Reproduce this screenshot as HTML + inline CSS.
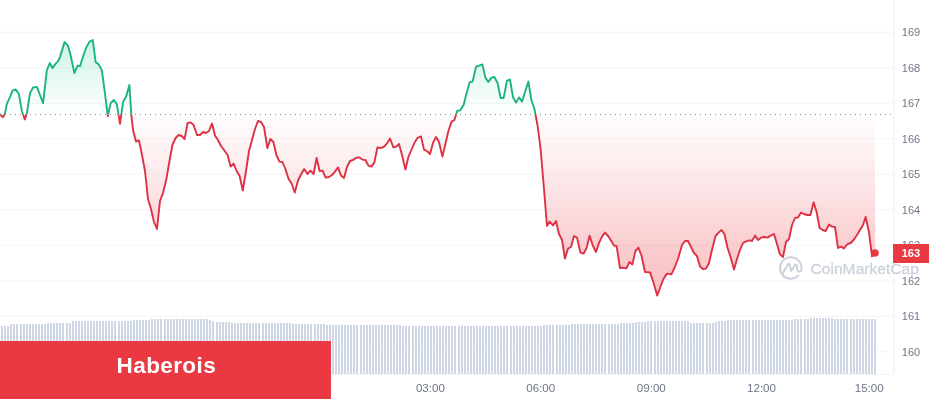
<!DOCTYPE html>
<html><head><meta charset="utf-8"><title>Chart</title>
<style>
html,body{margin:0;padding:0;background:#fff;}
body{width:929px;height:400px;overflow:hidden;position:relative;font-family:"Liberation Sans",sans-serif;}
svg{position:absolute;left:0;top:0;display:block}
.yl{font:11px "Liberation Sans",sans-serif;fill:#6f7687}
.xl{font:11.6px "Liberation Sans",sans-serif;fill:#6f7687}
.banner{position:absolute;left:0;top:341px;width:331px;height:58px;background:#ea3943;}
.banner span{position:absolute;left:116.6px;top:12px;font:bold 22.5px "Liberation Sans",sans-serif;color:#fff;letter-spacing:0.4px;white-space:nowrap}
</style></head><body>
<svg width="929" height="400" viewBox="0 0 929 400">
<defs>
<linearGradient id="gg" x1="0" y1="38" x2="0" y2="114.4" gradientUnits="userSpaceOnUse"><stop offset="0" stop-color="#16c784" stop-opacity="0.22"/><stop offset="1" stop-color="#16c784" stop-opacity="0"/></linearGradient>
<linearGradient id="rg" x1="0" y1="114.4" x2="0" y2="296" gradientUnits="userSpaceOnUse"><stop offset="0" stop-color="#ea3943" stop-opacity="0.01"/><stop offset="0.42" stop-color="#ea3943" stop-opacity="0.135"/><stop offset="0.75" stop-color="#ea3943" stop-opacity="0.26"/><stop offset="1" stop-color="#ea3943" stop-opacity="0.32"/></linearGradient>
<clipPath id="up"><rect x="-5" y="0" width="900" height="114.4"/></clipPath>
<clipPath id="dn"><rect x="-5" y="114.4" width="900" height="300"/></clipPath>
</defs>
<rect width="929" height="400" fill="#fff"/>
<rect x="0" y="31.8" width="894" height="1" fill="#f5f5f7"/><rect x="0" y="67.3" width="894" height="1" fill="#f5f5f7"/><rect x="0" y="102.8" width="894" height="1" fill="#f5f5f7"/><rect x="0" y="138.3" width="894" height="1" fill="#f5f5f7"/><rect x="0" y="173.8" width="894" height="1" fill="#f5f5f7"/><rect x="0" y="209.3" width="894" height="1" fill="#f5f5f7"/><rect x="0" y="244.8" width="894" height="1" fill="#f5f5f7"/><rect x="0" y="280.3" width="894" height="1" fill="#f5f5f7"/><rect x="0" y="315.8" width="894" height="1" fill="#f5f5f7"/><rect x="0" y="351.3" width="894" height="1" fill="#f5f5f7"/>
<rect x="893.5" y="0" width="1" height="374.5" fill="#f0f1f3"/><rect x="0" y="374" width="894" height="1" fill="#f3f4f6"/>
<g fill="#cfd6e4" shape-rendering="crispEdges"><rect x="874.00" y="319.0" width="2" height="55.0"/><rect x="871.00" y="319.0" width="2" height="55.0"/><rect x="868.00" y="319.0" width="2" height="55.0"/><rect x="865.00" y="319.0" width="2" height="55.0"/><rect x="862.00" y="319.0" width="2" height="55.0"/><rect x="859.00" y="319.0" width="2" height="55.0"/><rect x="856.00" y="319.0" width="2" height="55.0"/><rect x="853.00" y="319.0" width="2" height="55.0"/><rect x="850.00" y="319.0" width="2" height="55.0"/><rect x="846.00" y="319.0" width="2" height="55.0"/><rect x="843.00" y="319.0" width="2" height="55.0"/><rect x="840.00" y="319.0" width="2" height="55.0"/><rect x="837.00" y="319.0" width="2" height="55.0"/><rect x="834.00" y="318.5" width="2" height="55.5"/><rect x="831.00" y="318.0" width="2" height="56.0"/><rect x="828.00" y="318.0" width="2" height="56.0"/><rect x="825.00" y="318.0" width="2" height="56.0"/><rect x="822.00" y="318.0" width="2" height="56.0"/><rect x="819.00" y="318.0" width="2" height="56.0"/><rect x="816.00" y="318.0" width="2" height="56.0"/><rect x="813.00" y="318.0" width="2" height="56.0"/><rect x="810.00" y="318.4" width="2" height="55.6"/><rect x="807.00" y="318.8" width="2" height="55.2"/><rect x="804.00" y="318.8" width="2" height="55.2"/><rect x="800.00" y="318.8" width="2" height="55.2"/><rect x="797.00" y="318.8" width="2" height="55.2"/><rect x="794.00" y="318.8" width="2" height="55.2"/><rect x="791.00" y="320.0" width="2" height="54.0"/><rect x="788.00" y="320.0" width="2" height="54.0"/><rect x="785.00" y="320.0" width="2" height="54.0"/><rect x="782.00" y="320.0" width="2" height="54.0"/><rect x="779.00" y="320.0" width="2" height="54.0"/><rect x="776.00" y="320.0" width="2" height="54.0"/><rect x="773.00" y="320.0" width="2" height="54.0"/><rect x="770.00" y="320.0" width="2" height="54.0"/><rect x="767.00" y="320.0" width="2" height="54.0"/><rect x="764.00" y="320.0" width="2" height="54.0"/><rect x="761.00" y="320.0" width="2" height="54.0"/><rect x="758.00" y="320.0" width="2" height="54.0"/><rect x="755.00" y="320.0" width="2" height="54.0"/><rect x="752.00" y="320.0" width="2" height="54.0"/><rect x="748.00" y="320.0" width="2" height="54.0"/><rect x="745.00" y="320.0" width="2" height="54.0"/><rect x="742.00" y="320.0" width="2" height="54.0"/><rect x="739.00" y="320.0" width="2" height="54.0"/><rect x="736.00" y="320.0" width="2" height="54.0"/><rect x="733.00" y="320.0" width="2" height="54.0"/><rect x="730.00" y="320.0" width="2" height="54.0"/><rect x="727.00" y="320.0" width="2" height="54.0"/><rect x="724.00" y="321.0" width="2" height="53.0"/><rect x="721.00" y="321.0" width="2" height="53.0"/><rect x="718.00" y="321.0" width="2" height="53.0"/><rect x="715.00" y="322.0" width="2" height="52.0"/><rect x="712.00" y="322.5" width="2" height="51.5"/><rect x="709.00" y="322.5" width="2" height="51.5"/><rect x="706.00" y="322.5" width="2" height="51.5"/><rect x="702.00" y="322.5" width="2" height="51.5"/><rect x="699.00" y="322.5" width="2" height="51.5"/><rect x="696.00" y="322.5" width="2" height="51.5"/><rect x="693.00" y="322.5" width="2" height="51.5"/><rect x="690.00" y="322.5" width="2" height="51.5"/><rect x="687.00" y="321.2" width="2" height="52.8"/><rect x="684.00" y="321.2" width="2" height="52.8"/><rect x="681.00" y="321.2" width="2" height="52.8"/><rect x="678.00" y="321.2" width="2" height="52.8"/><rect x="675.00" y="321.2" width="2" height="52.8"/><rect x="672.00" y="321.2" width="2" height="52.8"/><rect x="669.00" y="321.2" width="2" height="52.8"/><rect x="666.00" y="321.2" width="2" height="52.8"/><rect x="663.00" y="321.2" width="2" height="52.8"/><rect x="660.00" y="321.2" width="2" height="52.8"/><rect x="657.00" y="321.2" width="2" height="52.8"/><rect x="654.00" y="321.2" width="2" height="52.8"/><rect x="650.00" y="321.2" width="2" height="52.8"/><rect x="647.00" y="321.2" width="2" height="52.8"/><rect x="644.00" y="321.6" width="2" height="52.4"/><rect x="641.00" y="322.0" width="2" height="52.0"/><rect x="638.00" y="322.0" width="2" height="52.0"/><rect x="635.00" y="322.0" width="2" height="52.0"/><rect x="632.00" y="323.0" width="2" height="51.0"/><rect x="629.00" y="323.0" width="2" height="51.0"/><rect x="626.00" y="323.0" width="2" height="51.0"/><rect x="623.00" y="323.0" width="2" height="51.0"/><rect x="620.00" y="323.0" width="2" height="51.0"/><rect x="617.00" y="324.2" width="2" height="49.8"/><rect x="614.00" y="324.2" width="2" height="49.8"/><rect x="611.00" y="324.2" width="2" height="49.8"/><rect x="608.00" y="324.2" width="2" height="49.8"/><rect x="604.00" y="324.2" width="2" height="49.8"/><rect x="601.00" y="324.2" width="2" height="49.8"/><rect x="598.00" y="324.2" width="2" height="49.8"/><rect x="595.00" y="324.2" width="2" height="49.8"/><rect x="592.00" y="324.2" width="2" height="49.8"/><rect x="589.00" y="324.2" width="2" height="49.8"/><rect x="586.00" y="324.2" width="2" height="49.8"/><rect x="583.00" y="324.2" width="2" height="49.8"/><rect x="580.00" y="324.2" width="2" height="49.8"/><rect x="577.00" y="324.2" width="2" height="49.8"/><rect x="574.00" y="324.2" width="2" height="49.8"/><rect x="571.00" y="324.2" width="2" height="49.8"/><rect x="568.00" y="325.0" width="2" height="49.0"/><rect x="565.00" y="325.0" width="2" height="49.0"/><rect x="562.00" y="325.0" width="2" height="49.0"/><rect x="559.00" y="325.0" width="2" height="49.0"/><rect x="556.00" y="325.0" width="2" height="49.0"/><rect x="552.00" y="325.0" width="2" height="49.0"/><rect x="549.00" y="325.0" width="2" height="49.0"/><rect x="546.00" y="325.0" width="2" height="49.0"/><rect x="543.00" y="325.3" width="2" height="48.7"/><rect x="540.00" y="326.2" width="2" height="47.8"/><rect x="537.00" y="326.2" width="2" height="47.8"/><rect x="534.00" y="326.2" width="2" height="47.8"/><rect x="531.00" y="326.2" width="2" height="47.8"/><rect x="528.00" y="326.2" width="2" height="47.8"/><rect x="525.00" y="326.2" width="2" height="47.8"/><rect x="522.00" y="326.2" width="2" height="47.8"/><rect x="519.00" y="326.2" width="2" height="47.8"/><rect x="516.00" y="326.2" width="2" height="47.8"/><rect x="513.00" y="326.2" width="2" height="47.8"/><rect x="510.00" y="326.2" width="2" height="47.8"/><rect x="506.00" y="326.2" width="2" height="47.8"/><rect x="503.00" y="326.2" width="2" height="47.8"/><rect x="500.00" y="326.2" width="2" height="47.8"/><rect x="497.00" y="326.2" width="2" height="47.8"/><rect x="494.00" y="326.2" width="2" height="47.8"/><rect x="491.00" y="326.2" width="2" height="47.8"/><rect x="488.00" y="326.2" width="2" height="47.8"/><rect x="485.00" y="326.2" width="2" height="47.8"/><rect x="482.00" y="326.2" width="2" height="47.8"/><rect x="479.00" y="326.2" width="2" height="47.8"/><rect x="476.00" y="326.2" width="2" height="47.8"/><rect x="473.00" y="326.2" width="2" height="47.8"/><rect x="470.00" y="326.2" width="2" height="47.8"/><rect x="467.00" y="326.2" width="2" height="47.8"/><rect x="464.00" y="326.2" width="2" height="47.8"/><rect x="461.00" y="326.2" width="2" height="47.8"/><rect x="458.00" y="326.2" width="2" height="47.8"/><rect x="454.00" y="326.2" width="2" height="47.8"/><rect x="451.00" y="326.2" width="2" height="47.8"/><rect x="448.00" y="326.2" width="2" height="47.8"/><rect x="445.00" y="326.2" width="2" height="47.8"/><rect x="442.00" y="326.2" width="2" height="47.8"/><rect x="439.00" y="326.2" width="2" height="47.8"/><rect x="436.00" y="326.2" width="2" height="47.8"/><rect x="433.00" y="326.2" width="2" height="47.8"/><rect x="430.00" y="326.2" width="2" height="47.8"/><rect x="427.00" y="326.2" width="2" height="47.8"/><rect x="424.00" y="326.2" width="2" height="47.8"/><rect x="421.00" y="326.2" width="2" height="47.8"/><rect x="418.00" y="326.2" width="2" height="47.8"/><rect x="415.00" y="326.2" width="2" height="47.8"/><rect x="412.00" y="326.2" width="2" height="47.8"/><rect x="408.00" y="326.2" width="2" height="47.8"/><rect x="405.00" y="326.2" width="2" height="47.8"/><rect x="402.00" y="326.2" width="2" height="47.8"/><rect x="399.00" y="325.0" width="2" height="49.0"/><rect x="396.00" y="325.0" width="2" height="49.0"/><rect x="393.00" y="325.0" width="2" height="49.0"/><rect x="390.00" y="325.0" width="2" height="49.0"/><rect x="387.00" y="325.0" width="2" height="49.0"/><rect x="384.00" y="325.0" width="2" height="49.0"/><rect x="381.00" y="325.0" width="2" height="49.0"/><rect x="378.00" y="325.0" width="2" height="49.0"/><rect x="375.00" y="325.0" width="2" height="49.0"/><rect x="372.00" y="325.0" width="2" height="49.0"/><rect x="369.00" y="325.0" width="2" height="49.0"/><rect x="366.00" y="325.0" width="2" height="49.0"/><rect x="363.00" y="325.0" width="2" height="49.0"/><rect x="360.00" y="325.0" width="2" height="49.0"/><rect x="356.00" y="325.0" width="2" height="49.0"/><rect x="353.00" y="325.0" width="2" height="49.0"/><rect x="350.00" y="325.0" width="2" height="49.0"/><rect x="347.00" y="325.0" width="2" height="49.0"/><rect x="344.00" y="325.0" width="2" height="49.0"/><rect x="341.00" y="325.0" width="2" height="49.0"/><rect x="338.00" y="325.0" width="2" height="49.0"/><rect x="335.00" y="325.0" width="2" height="49.0"/><rect x="332.00" y="325.0" width="2" height="49.0"/><rect x="329.00" y="325.0" width="2" height="49.0"/><rect x="326.00" y="325.0" width="2" height="49.0"/><rect x="323.00" y="323.7" width="2" height="50.3"/><rect x="320.00" y="323.7" width="2" height="50.3"/><rect x="317.00" y="323.7" width="2" height="50.3"/><rect x="314.00" y="323.7" width="2" height="50.3"/><rect x="310.00" y="323.7" width="2" height="50.3"/><rect x="307.00" y="323.7" width="2" height="50.3"/><rect x="304.00" y="323.7" width="2" height="50.3"/><rect x="301.00" y="323.7" width="2" height="50.3"/><rect x="298.00" y="323.7" width="2" height="50.3"/><rect x="295.00" y="323.7" width="2" height="50.3"/><rect x="292.00" y="323.7" width="2" height="50.3"/><rect x="289.00" y="322.5" width="2" height="51.5"/><rect x="286.00" y="322.5" width="2" height="51.5"/><rect x="283.00" y="322.5" width="2" height="51.5"/><rect x="280.00" y="322.5" width="2" height="51.5"/><rect x="277.00" y="322.5" width="2" height="51.5"/><rect x="274.00" y="322.5" width="2" height="51.5"/><rect x="271.00" y="322.5" width="2" height="51.5"/><rect x="268.00" y="322.5" width="2" height="51.5"/><rect x="265.00" y="322.5" width="2" height="51.5"/><rect x="262.00" y="322.5" width="2" height="51.5"/><rect x="258.00" y="322.5" width="2" height="51.5"/><rect x="255.00" y="322.5" width="2" height="51.5"/><rect x="252.00" y="322.5" width="2" height="51.5"/><rect x="249.00" y="322.5" width="2" height="51.5"/><rect x="246.00" y="322.5" width="2" height="51.5"/><rect x="243.00" y="322.5" width="2" height="51.5"/><rect x="240.00" y="322.5" width="2" height="51.5"/><rect x="237.00" y="322.5" width="2" height="51.5"/><rect x="234.00" y="322.5" width="2" height="51.5"/><rect x="231.00" y="322.5" width="2" height="51.5"/><rect x="228.00" y="322.4" width="2" height="51.6"/><rect x="225.00" y="322.3" width="2" height="51.7"/><rect x="222.00" y="322.2" width="2" height="51.8"/><rect x="219.00" y="322.1" width="2" height="51.9"/><rect x="216.00" y="322.1" width="2" height="51.9"/><rect x="212.00" y="321.2" width="2" height="52.8"/><rect x="209.00" y="319.9" width="2" height="54.1"/><rect x="206.00" y="318.8" width="2" height="55.2"/><rect x="203.00" y="318.8" width="2" height="55.2"/><rect x="200.00" y="318.8" width="2" height="55.2"/><rect x="197.00" y="318.8" width="2" height="55.2"/><rect x="194.00" y="318.8" width="2" height="55.2"/><rect x="191.00" y="318.8" width="2" height="55.2"/><rect x="188.00" y="318.8" width="2" height="55.2"/><rect x="185.00" y="318.8" width="2" height="55.2"/><rect x="182.00" y="318.8" width="2" height="55.2"/><rect x="179.00" y="318.8" width="2" height="55.2"/><rect x="176.00" y="318.8" width="2" height="55.2"/><rect x="173.00" y="318.8" width="2" height="55.2"/><rect x="170.00" y="318.8" width="2" height="55.2"/><rect x="167.00" y="318.8" width="2" height="55.2"/><rect x="164.00" y="318.8" width="2" height="55.2"/><rect x="160.00" y="318.8" width="2" height="55.2"/><rect x="157.00" y="318.8" width="2" height="55.2"/><rect x="154.00" y="318.8" width="2" height="55.2"/><rect x="151.00" y="319.4" width="2" height="54.6"/><rect x="148.00" y="320.0" width="2" height="54.0"/><rect x="145.00" y="320.0" width="2" height="54.0"/><rect x="142.00" y="320.0" width="2" height="54.0"/><rect x="139.00" y="320.0" width="2" height="54.0"/><rect x="136.00" y="320.0" width="2" height="54.0"/><rect x="133.00" y="320.0" width="2" height="54.0"/><rect x="130.00" y="321.3" width="2" height="52.7"/><rect x="127.00" y="321.3" width="2" height="52.7"/><rect x="124.00" y="321.3" width="2" height="52.7"/><rect x="121.00" y="321.3" width="2" height="52.7"/><rect x="118.00" y="321.3" width="2" height="52.7"/><rect x="114.00" y="321.3" width="2" height="52.7"/><rect x="111.00" y="321.3" width="2" height="52.7"/><rect x="108.00" y="321.3" width="2" height="52.7"/><rect x="105.00" y="321.3" width="2" height="52.7"/><rect x="102.00" y="321.3" width="2" height="52.7"/><rect x="99.00" y="321.3" width="2" height="52.7"/><rect x="96.00" y="321.3" width="2" height="52.7"/><rect x="93.00" y="321.3" width="2" height="52.7"/><rect x="90.00" y="321.3" width="2" height="52.7"/><rect x="87.00" y="321.3" width="2" height="52.7"/><rect x="84.00" y="321.3" width="2" height="52.7"/><rect x="81.00" y="321.3" width="2" height="52.7"/><rect x="78.00" y="321.3" width="2" height="52.7"/><rect x="75.00" y="321.3" width="2" height="52.7"/><rect x="72.00" y="321.3" width="2" height="52.7"/><rect x="69.00" y="323.0" width="2" height="51.0"/><rect x="66.00" y="323.0" width="2" height="51.0"/><rect x="62.00" y="323.0" width="2" height="51.0"/><rect x="59.00" y="323.0" width="2" height="51.0"/><rect x="56.00" y="323.0" width="2" height="51.0"/><rect x="53.00" y="323.0" width="2" height="51.0"/><rect x="50.00" y="323.0" width="2" height="51.0"/><rect x="47.00" y="323.0" width="2" height="51.0"/><rect x="44.00" y="324.3" width="2" height="49.7"/><rect x="41.00" y="324.3" width="2" height="49.7"/><rect x="38.00" y="324.3" width="2" height="49.7"/><rect x="35.00" y="324.3" width="2" height="49.7"/><rect x="32.00" y="324.3" width="2" height="49.7"/><rect x="29.00" y="324.3" width="2" height="49.7"/><rect x="26.00" y="324.3" width="2" height="49.7"/><rect x="23.00" y="324.3" width="2" height="49.7"/><rect x="20.00" y="324.3" width="2" height="49.7"/><rect x="16.00" y="324.3" width="2" height="49.7"/><rect x="13.00" y="324.3" width="2" height="49.7"/><rect x="10.00" y="324.3" width="2" height="49.7"/><rect x="7.00" y="325.5" width="2" height="48.5"/><rect x="4.00" y="325.5" width="2" height="48.5"/><rect x="1.00" y="325.5" width="2" height="48.5"/><rect x="-2.00" y="325.5" width="2" height="48.5"/></g>
<g clip-path="url(#up)"><path d="M-3.0,114.6 L0.0,114.4 L3.1,117.2 L5.0,113.1 L6.9,103.8 L10.0,96.9 L12.5,90.6 L15.6,89.4 L18.8,93.8 L21.9,111.2 L24.8,119.4 L26.9,113.1 L30.0,93.1 L33.1,87.5 L36.9,86.9 L40.0,95.0 L43.1,103.1 L45.6,81.2 L46.9,70.0 L49.8,63.1 L52.5,68.1 L55.0,64.4 L58.1,61.2 L60.0,56.9 L64.6,41.9 L67.9,45.6 L70.6,55.0 L74.4,73.1 L77.5,65.6 L80.0,66.2 L83.1,56.2 L86.2,47.5 L89.4,41.9 L92.8,40.0 L95.6,61.9 L98.8,64.4 L101.9,70.6 L104.4,89.0 L107.8,116.0 L110.6,103.4 L113.8,100.0 L116.9,104.4 L120.0,123.8 L123.1,101.9 L126.2,96.2 L129.4,85.0 L131.3,114.4 L133.0,130.0 L136.0,141.6 L139.0,140.4 L142.0,155.0 L145.0,171.0 L148.0,199.0 L151.0,209.0 L154.0,222.0 L157.0,229.0 L160.0,201.0 L163.0,193.0 L166.4,179.0 L170.0,158.0 L172.4,145.0 L175.6,138.0 L178.6,135.0 L181.6,136.0 L184.6,139.0 L187.6,123.0 L190.6,122.4 L193.6,125.0 L197.0,135.0 L200.0,135.0 L203.0,132.0 L206.0,133.0 L209.0,131.0 L212.0,123.6 L215.0,135.6 L218.0,140.0 L221.0,146.0 L224.0,150.0 L227.6,155.0 L230.6,166.6 L233.6,163.6 L236.6,171.0 L239.6,176.0 L242.8,190.5 L246.0,171.0 L249.0,151.0 L252.0,140.0 L255.0,129.0 L258.0,121.0 L261.0,122.0 L264.0,127.0 L267.4,148.0 L270.4,139.0 L273.4,142.0 L276.4,155.0 L279.4,161.6 L282.4,162.0 L285.4,169.0 L288.6,179.0 L291.6,183.5 L294.8,192.5 L298.0,180.5 L301.0,174.5 L304.2,169.0 L307.4,174.0 L310.4,170.6 L313.6,174.0 L316.6,158.0 L319.6,171.0 L322.6,170.6 L325.6,177.6 L329.0,177.0 L332.0,175.0 L335.0,171.6 L338.0,167.4 L341.0,175.6 L344.0,178.0 L347.0,167.0 L350.0,161.0 L353.0,160.0 L356.4,157.6 L359.4,157.4 L362.4,159.6 L365.4,160.0 L368.4,165.6 L371.4,166.6 L374.4,162.4 L377.4,147.4 L380.4,148.0 L383.6,147.0 L386.6,144.0 L390.0,138.6 L393.4,147.4 L396.4,146.6 L399.0,144.0 L402.0,155.0 L405.4,169.6 L408.4,157.0 L411.4,150.0 L414.4,143.0 L417.4,138.0 L421.0,136.4 L424.0,149.6 L427.0,151.0 L430.0,154.0 L433.0,143.0 L436.0,137.0 L439.0,142.0 L442.4,156.6 L445.4,144.0 L448.4,131.0 L451.6,121.6 L454.4,120.0 L457.4,110.6 L460.0,110.6 L463.6,105.0 L466.6,93.0 L469.6,82.4 L472.6,81.6 L476.0,66.6 L479.0,65.6 L482.4,64.4 L485.4,77.6 L488.4,82.0 L491.4,77.6 L494.4,77.0 L497.6,83.0 L500.6,98.0 L503.6,98.0 L507.0,80.6 L510.0,79.6 L513.0,97.0 L516.0,102.6 L519.0,97.4 L522.0,101.6 L525.0,92.0 L528.4,81.6 L531.4,100.0 L534.4,109.0 L537.5,125.0 L540.5,148.0 L543.6,184.0 L547.0,226.0 L549.6,221.6 L553.0,225.4 L556.0,221.0 L559.0,234.0 L562.0,240.0 L565.0,258.6 L568.0,248.6 L571.0,247.0 L574.0,236.0 L577.0,237.6 L580.4,252.6 L583.6,253.6 L586.6,248.0 L589.6,235.6 L592.6,245.0 L596.0,252.0 L599.0,243.0 L602.0,236.6 L605.0,232.6 L608.0,236.0 L611.0,240.6 L614.0,245.6 L616.6,246.0 L620.0,268.0 L623.0,267.6 L626.4,268.4 L629.4,262.0 L632.4,264.4 L635.4,251.0 L638.4,247.6 L641.6,256.0 L645.0,272.0 L650.0,272.4 L653.6,283.0 L657.2,295.6 L660.0,288.0 L663.4,279.0 L667.0,273.6 L671.4,274.4 L674.4,268.0 L678.0,259.0 L682.0,245.0 L685.0,241.0 L688.0,241.0 L691.0,247.0 L694.0,253.0 L697.0,256.0 L700.0,266.6 L703.0,269.0 L706.0,268.6 L709.0,263.0 L712.4,248.0 L715.6,236.0 L718.6,232.6 L721.6,230.0 L724.4,234.0 L727.6,248.0 L730.6,257.0 L734.0,269.6 L737.0,259.0 L740.0,250.0 L743.0,243.0 L746.0,241.4 L749.0,240.4 L752.0,241.0 L755.0,235.6 L758.0,240.0 L761.4,237.4 L764.4,237.0 L767.6,237.6 L770.6,235.6 L774.0,234.0 L777.0,244.0 L780.0,254.4 L783.0,257.0 L786.0,242.0 L789.0,239.0 L792.0,225.0 L795.0,218.0 L798.0,217.4 L801.0,212.6 L804.0,214.0 L807.4,215.0 L810.4,215.0 L813.6,202.4 L816.6,212.0 L819.6,228.0 L822.6,230.0 L825.6,231.0 L829.0,224.6 L832.0,226.6 L835.0,227.0 L838.0,248.0 L841.0,246.6 L844.0,248.4 L847.6,244.0 L850.6,243.0 L853.6,240.0 L857.0,235.0 L860.0,230.0 L863.0,225.0 L865.6,217.0 L869.0,232.0 L872.0,256.5 L875.0,253.0 L875,114.4 L-3,114.4 Z" fill="url(#gg)"/></g>
<g clip-path="url(#dn)"><path d="M-3.0,114.6 L0.0,114.4 L3.1,117.2 L5.0,113.1 L6.9,103.8 L10.0,96.9 L12.5,90.6 L15.6,89.4 L18.8,93.8 L21.9,111.2 L24.8,119.4 L26.9,113.1 L30.0,93.1 L33.1,87.5 L36.9,86.9 L40.0,95.0 L43.1,103.1 L45.6,81.2 L46.9,70.0 L49.8,63.1 L52.5,68.1 L55.0,64.4 L58.1,61.2 L60.0,56.9 L64.6,41.9 L67.9,45.6 L70.6,55.0 L74.4,73.1 L77.5,65.6 L80.0,66.2 L83.1,56.2 L86.2,47.5 L89.4,41.9 L92.8,40.0 L95.6,61.9 L98.8,64.4 L101.9,70.6 L104.4,89.0 L107.8,116.0 L110.6,103.4 L113.8,100.0 L116.9,104.4 L120.0,123.8 L123.1,101.9 L126.2,96.2 L129.4,85.0 L131.3,114.4 L133.0,130.0 L136.0,141.6 L139.0,140.4 L142.0,155.0 L145.0,171.0 L148.0,199.0 L151.0,209.0 L154.0,222.0 L157.0,229.0 L160.0,201.0 L163.0,193.0 L166.4,179.0 L170.0,158.0 L172.4,145.0 L175.6,138.0 L178.6,135.0 L181.6,136.0 L184.6,139.0 L187.6,123.0 L190.6,122.4 L193.6,125.0 L197.0,135.0 L200.0,135.0 L203.0,132.0 L206.0,133.0 L209.0,131.0 L212.0,123.6 L215.0,135.6 L218.0,140.0 L221.0,146.0 L224.0,150.0 L227.6,155.0 L230.6,166.6 L233.6,163.6 L236.6,171.0 L239.6,176.0 L242.8,190.5 L246.0,171.0 L249.0,151.0 L252.0,140.0 L255.0,129.0 L258.0,121.0 L261.0,122.0 L264.0,127.0 L267.4,148.0 L270.4,139.0 L273.4,142.0 L276.4,155.0 L279.4,161.6 L282.4,162.0 L285.4,169.0 L288.6,179.0 L291.6,183.5 L294.8,192.5 L298.0,180.5 L301.0,174.5 L304.2,169.0 L307.4,174.0 L310.4,170.6 L313.6,174.0 L316.6,158.0 L319.6,171.0 L322.6,170.6 L325.6,177.6 L329.0,177.0 L332.0,175.0 L335.0,171.6 L338.0,167.4 L341.0,175.6 L344.0,178.0 L347.0,167.0 L350.0,161.0 L353.0,160.0 L356.4,157.6 L359.4,157.4 L362.4,159.6 L365.4,160.0 L368.4,165.6 L371.4,166.6 L374.4,162.4 L377.4,147.4 L380.4,148.0 L383.6,147.0 L386.6,144.0 L390.0,138.6 L393.4,147.4 L396.4,146.6 L399.0,144.0 L402.0,155.0 L405.4,169.6 L408.4,157.0 L411.4,150.0 L414.4,143.0 L417.4,138.0 L421.0,136.4 L424.0,149.6 L427.0,151.0 L430.0,154.0 L433.0,143.0 L436.0,137.0 L439.0,142.0 L442.4,156.6 L445.4,144.0 L448.4,131.0 L451.6,121.6 L454.4,120.0 L457.4,110.6 L460.0,110.6 L463.6,105.0 L466.6,93.0 L469.6,82.4 L472.6,81.6 L476.0,66.6 L479.0,65.6 L482.4,64.4 L485.4,77.6 L488.4,82.0 L491.4,77.6 L494.4,77.0 L497.6,83.0 L500.6,98.0 L503.6,98.0 L507.0,80.6 L510.0,79.6 L513.0,97.0 L516.0,102.6 L519.0,97.4 L522.0,101.6 L525.0,92.0 L528.4,81.6 L531.4,100.0 L534.4,109.0 L537.5,125.0 L540.5,148.0 L543.6,184.0 L547.0,226.0 L549.6,221.6 L553.0,225.4 L556.0,221.0 L559.0,234.0 L562.0,240.0 L565.0,258.6 L568.0,248.6 L571.0,247.0 L574.0,236.0 L577.0,237.6 L580.4,252.6 L583.6,253.6 L586.6,248.0 L589.6,235.6 L592.6,245.0 L596.0,252.0 L599.0,243.0 L602.0,236.6 L605.0,232.6 L608.0,236.0 L611.0,240.6 L614.0,245.6 L616.6,246.0 L620.0,268.0 L623.0,267.6 L626.4,268.4 L629.4,262.0 L632.4,264.4 L635.4,251.0 L638.4,247.6 L641.6,256.0 L645.0,272.0 L650.0,272.4 L653.6,283.0 L657.2,295.6 L660.0,288.0 L663.4,279.0 L667.0,273.6 L671.4,274.4 L674.4,268.0 L678.0,259.0 L682.0,245.0 L685.0,241.0 L688.0,241.0 L691.0,247.0 L694.0,253.0 L697.0,256.0 L700.0,266.6 L703.0,269.0 L706.0,268.6 L709.0,263.0 L712.4,248.0 L715.6,236.0 L718.6,232.6 L721.6,230.0 L724.4,234.0 L727.6,248.0 L730.6,257.0 L734.0,269.6 L737.0,259.0 L740.0,250.0 L743.0,243.0 L746.0,241.4 L749.0,240.4 L752.0,241.0 L755.0,235.6 L758.0,240.0 L761.4,237.4 L764.4,237.0 L767.6,237.6 L770.6,235.6 L774.0,234.0 L777.0,244.0 L780.0,254.4 L783.0,257.0 L786.0,242.0 L789.0,239.0 L792.0,225.0 L795.0,218.0 L798.0,217.4 L801.0,212.6 L804.0,214.0 L807.4,215.0 L810.4,215.0 L813.6,202.4 L816.6,212.0 L819.6,228.0 L822.6,230.0 L825.6,231.0 L829.0,224.6 L832.0,226.6 L835.0,227.0 L838.0,248.0 L841.0,246.6 L844.0,248.4 L847.6,244.0 L850.6,243.0 L853.6,240.0 L857.0,235.0 L860.0,230.0 L863.0,225.0 L865.6,217.0 L869.0,232.0 L872.0,256.5 L875.0,253.0 L875,114.4 L-3,114.4 Z" fill="url(#rg)"/></g>
<g fill="#878b94"><rect x="0" y="114" width="1" height="1"/><rect x="5" y="114" width="1" height="1"/><rect x="10" y="114" width="1" height="1"/><rect x="15" y="114" width="1" height="1"/><rect x="20" y="114" width="1" height="1"/><rect x="25" y="114" width="1" height="1"/><rect x="30" y="114" width="1" height="1"/><rect x="35" y="114" width="1" height="1"/><rect x="40" y="114" width="1" height="1"/><rect x="45" y="114" width="1" height="1"/><rect x="50" y="114" width="1" height="1"/><rect x="55" y="114" width="1" height="1"/><rect x="60" y="114" width="1" height="1"/><rect x="65" y="114" width="1" height="1"/><rect x="70" y="114" width="1" height="1"/><rect x="75" y="114" width="1" height="1"/><rect x="80" y="114" width="1" height="1"/><rect x="85" y="114" width="1" height="1"/><rect x="90" y="114" width="1" height="1"/><rect x="95" y="114" width="1" height="1"/><rect x="100" y="114" width="1" height="1"/><rect x="105" y="114" width="1" height="1"/><rect x="110" y="114" width="1" height="1"/><rect x="115" y="114" width="1" height="1"/><rect x="120" y="114" width="1" height="1"/><rect x="125" y="114" width="1" height="1"/><rect x="130" y="114" width="1" height="1"/><rect x="135" y="114" width="1" height="1"/><rect x="140" y="114" width="1" height="1"/><rect x="145" y="114" width="1" height="1"/><rect x="150" y="114" width="1" height="1"/><rect x="155" y="114" width="1" height="1"/><rect x="160" y="114" width="1" height="1"/><rect x="165" y="114" width="1" height="1"/><rect x="170" y="114" width="1" height="1"/><rect x="175" y="114" width="1" height="1"/><rect x="180" y="114" width="1" height="1"/><rect x="185" y="114" width="1" height="1"/><rect x="190" y="114" width="1" height="1"/><rect x="195" y="114" width="1" height="1"/><rect x="200" y="114" width="1" height="1"/><rect x="205" y="114" width="1" height="1"/><rect x="210" y="114" width="1" height="1"/><rect x="215" y="114" width="1" height="1"/><rect x="220" y="114" width="1" height="1"/><rect x="225" y="114" width="1" height="1"/><rect x="230" y="114" width="1" height="1"/><rect x="235" y="114" width="1" height="1"/><rect x="240" y="114" width="1" height="1"/><rect x="245" y="114" width="1" height="1"/><rect x="250" y="114" width="1" height="1"/><rect x="255" y="114" width="1" height="1"/><rect x="260" y="114" width="1" height="1"/><rect x="265" y="114" width="1" height="1"/><rect x="270" y="114" width="1" height="1"/><rect x="275" y="114" width="1" height="1"/><rect x="280" y="114" width="1" height="1"/><rect x="285" y="114" width="1" height="1"/><rect x="290" y="114" width="1" height="1"/><rect x="295" y="114" width="1" height="1"/><rect x="300" y="114" width="1" height="1"/><rect x="305" y="114" width="1" height="1"/><rect x="310" y="114" width="1" height="1"/><rect x="315" y="114" width="1" height="1"/><rect x="320" y="114" width="1" height="1"/><rect x="325" y="114" width="1" height="1"/><rect x="330" y="114" width="1" height="1"/><rect x="335" y="114" width="1" height="1"/><rect x="340" y="114" width="1" height="1"/><rect x="345" y="114" width="1" height="1"/><rect x="350" y="114" width="1" height="1"/><rect x="355" y="114" width="1" height="1"/><rect x="360" y="114" width="1" height="1"/><rect x="365" y="114" width="1" height="1"/><rect x="370" y="114" width="1" height="1"/><rect x="375" y="114" width="1" height="1"/><rect x="380" y="114" width="1" height="1"/><rect x="385" y="114" width="1" height="1"/><rect x="390" y="114" width="1" height="1"/><rect x="395" y="114" width="1" height="1"/><rect x="400" y="114" width="1" height="1"/><rect x="405" y="114" width="1" height="1"/><rect x="410" y="114" width="1" height="1"/><rect x="415" y="114" width="1" height="1"/><rect x="420" y="114" width="1" height="1"/><rect x="425" y="114" width="1" height="1"/><rect x="430" y="114" width="1" height="1"/><rect x="435" y="114" width="1" height="1"/><rect x="440" y="114" width="1" height="1"/><rect x="445" y="114" width="1" height="1"/><rect x="450" y="114" width="1" height="1"/><rect x="455" y="114" width="1" height="1"/><rect x="460" y="114" width="1" height="1"/><rect x="465" y="114" width="1" height="1"/><rect x="470" y="114" width="1" height="1"/><rect x="475" y="114" width="1" height="1"/><rect x="480" y="114" width="1" height="1"/><rect x="485" y="114" width="1" height="1"/><rect x="490" y="114" width="1" height="1"/><rect x="495" y="114" width="1" height="1"/><rect x="500" y="114" width="1" height="1"/><rect x="505" y="114" width="1" height="1"/><rect x="510" y="114" width="1" height="1"/><rect x="515" y="114" width="1" height="1"/><rect x="520" y="114" width="1" height="1"/><rect x="525" y="114" width="1" height="1"/><rect x="530" y="114" width="1" height="1"/><rect x="535" y="114" width="1" height="1"/><rect x="540" y="114" width="1" height="1"/><rect x="545" y="114" width="1" height="1"/><rect x="550" y="114" width="1" height="1"/><rect x="555" y="114" width="1" height="1"/><rect x="560" y="114" width="1" height="1"/><rect x="565" y="114" width="1" height="1"/><rect x="570" y="114" width="1" height="1"/><rect x="575" y="114" width="1" height="1"/><rect x="580" y="114" width="1" height="1"/><rect x="585" y="114" width="1" height="1"/><rect x="590" y="114" width="1" height="1"/><rect x="595" y="114" width="1" height="1"/><rect x="600" y="114" width="1" height="1"/><rect x="605" y="114" width="1" height="1"/><rect x="610" y="114" width="1" height="1"/><rect x="615" y="114" width="1" height="1"/><rect x="620" y="114" width="1" height="1"/><rect x="625" y="114" width="1" height="1"/><rect x="630" y="114" width="1" height="1"/><rect x="635" y="114" width="1" height="1"/><rect x="640" y="114" width="1" height="1"/><rect x="645" y="114" width="1" height="1"/><rect x="650" y="114" width="1" height="1"/><rect x="655" y="114" width="1" height="1"/><rect x="660" y="114" width="1" height="1"/><rect x="665" y="114" width="1" height="1"/><rect x="670" y="114" width="1" height="1"/><rect x="675" y="114" width="1" height="1"/><rect x="680" y="114" width="1" height="1"/><rect x="685" y="114" width="1" height="1"/><rect x="690" y="114" width="1" height="1"/><rect x="695" y="114" width="1" height="1"/><rect x="700" y="114" width="1" height="1"/><rect x="705" y="114" width="1" height="1"/><rect x="710" y="114" width="1" height="1"/><rect x="715" y="114" width="1" height="1"/><rect x="720" y="114" width="1" height="1"/><rect x="725" y="114" width="1" height="1"/><rect x="730" y="114" width="1" height="1"/><rect x="735" y="114" width="1" height="1"/><rect x="740" y="114" width="1" height="1"/><rect x="745" y="114" width="1" height="1"/><rect x="750" y="114" width="1" height="1"/><rect x="755" y="114" width="1" height="1"/><rect x="760" y="114" width="1" height="1"/><rect x="765" y="114" width="1" height="1"/><rect x="770" y="114" width="1" height="1"/><rect x="775" y="114" width="1" height="1"/><rect x="780" y="114" width="1" height="1"/><rect x="785" y="114" width="1" height="1"/><rect x="790" y="114" width="1" height="1"/><rect x="795" y="114" width="1" height="1"/><rect x="800" y="114" width="1" height="1"/><rect x="805" y="114" width="1" height="1"/><rect x="810" y="114" width="1" height="1"/><rect x="815" y="114" width="1" height="1"/><rect x="820" y="114" width="1" height="1"/><rect x="825" y="114" width="1" height="1"/><rect x="830" y="114" width="1" height="1"/><rect x="835" y="114" width="1" height="1"/><rect x="840" y="114" width="1" height="1"/><rect x="845" y="114" width="1" height="1"/><rect x="850" y="114" width="1" height="1"/><rect x="855" y="114" width="1" height="1"/><rect x="860" y="114" width="1" height="1"/><rect x="865" y="114" width="1" height="1"/><rect x="870" y="114" width="1" height="1"/><rect x="875" y="114" width="1" height="1"/><rect x="880" y="114" width="1" height="1"/><rect x="885" y="114" width="1" height="1"/><rect x="890" y="114" width="1" height="1"/></g>
<g clip-path="url(#up)"><path d="M-3.0,114.6 L0.0,114.4 L3.1,117.2 L5.0,113.1 L6.9,103.8 L10.0,96.9 L12.5,90.6 L15.6,89.4 L18.8,93.8 L21.9,111.2 L24.8,119.4 L26.9,113.1 L30.0,93.1 L33.1,87.5 L36.9,86.9 L40.0,95.0 L43.1,103.1 L45.6,81.2 L46.9,70.0 L49.8,63.1 L52.5,68.1 L55.0,64.4 L58.1,61.2 L60.0,56.9 L64.6,41.9 L67.9,45.6 L70.6,55.0 L74.4,73.1 L77.5,65.6 L80.0,66.2 L83.1,56.2 L86.2,47.5 L89.4,41.9 L92.8,40.0 L95.6,61.9 L98.8,64.4 L101.9,70.6 L104.4,89.0 L107.8,116.0 L110.6,103.4 L113.8,100.0 L116.9,104.4 L120.0,123.8 L123.1,101.9 L126.2,96.2 L129.4,85.0 L131.3,114.4 L133.0,130.0 L136.0,141.6 L139.0,140.4 L142.0,155.0 L145.0,171.0 L148.0,199.0 L151.0,209.0 L154.0,222.0 L157.0,229.0 L160.0,201.0 L163.0,193.0 L166.4,179.0 L170.0,158.0 L172.4,145.0 L175.6,138.0 L178.6,135.0 L181.6,136.0 L184.6,139.0 L187.6,123.0 L190.6,122.4 L193.6,125.0 L197.0,135.0 L200.0,135.0 L203.0,132.0 L206.0,133.0 L209.0,131.0 L212.0,123.6 L215.0,135.6 L218.0,140.0 L221.0,146.0 L224.0,150.0 L227.6,155.0 L230.6,166.6 L233.6,163.6 L236.6,171.0 L239.6,176.0 L242.8,190.5 L246.0,171.0 L249.0,151.0 L252.0,140.0 L255.0,129.0 L258.0,121.0 L261.0,122.0 L264.0,127.0 L267.4,148.0 L270.4,139.0 L273.4,142.0 L276.4,155.0 L279.4,161.6 L282.4,162.0 L285.4,169.0 L288.6,179.0 L291.6,183.5 L294.8,192.5 L298.0,180.5 L301.0,174.5 L304.2,169.0 L307.4,174.0 L310.4,170.6 L313.6,174.0 L316.6,158.0 L319.6,171.0 L322.6,170.6 L325.6,177.6 L329.0,177.0 L332.0,175.0 L335.0,171.6 L338.0,167.4 L341.0,175.6 L344.0,178.0 L347.0,167.0 L350.0,161.0 L353.0,160.0 L356.4,157.6 L359.4,157.4 L362.4,159.6 L365.4,160.0 L368.4,165.6 L371.4,166.6 L374.4,162.4 L377.4,147.4 L380.4,148.0 L383.6,147.0 L386.6,144.0 L390.0,138.6 L393.4,147.4 L396.4,146.6 L399.0,144.0 L402.0,155.0 L405.4,169.6 L408.4,157.0 L411.4,150.0 L414.4,143.0 L417.4,138.0 L421.0,136.4 L424.0,149.6 L427.0,151.0 L430.0,154.0 L433.0,143.0 L436.0,137.0 L439.0,142.0 L442.4,156.6 L445.4,144.0 L448.4,131.0 L451.6,121.6 L454.4,120.0 L457.4,110.6 L460.0,110.6 L463.6,105.0 L466.6,93.0 L469.6,82.4 L472.6,81.6 L476.0,66.6 L479.0,65.6 L482.4,64.4 L485.4,77.6 L488.4,82.0 L491.4,77.6 L494.4,77.0 L497.6,83.0 L500.6,98.0 L503.6,98.0 L507.0,80.6 L510.0,79.6 L513.0,97.0 L516.0,102.6 L519.0,97.4 L522.0,101.6 L525.0,92.0 L528.4,81.6 L531.4,100.0 L534.4,109.0 L537.5,125.0 L540.5,148.0 L543.6,184.0 L547.0,226.0 L549.6,221.6 L553.0,225.4 L556.0,221.0 L559.0,234.0 L562.0,240.0 L565.0,258.6 L568.0,248.6 L571.0,247.0 L574.0,236.0 L577.0,237.6 L580.4,252.6 L583.6,253.6 L586.6,248.0 L589.6,235.6 L592.6,245.0 L596.0,252.0 L599.0,243.0 L602.0,236.6 L605.0,232.6 L608.0,236.0 L611.0,240.6 L614.0,245.6 L616.6,246.0 L620.0,268.0 L623.0,267.6 L626.4,268.4 L629.4,262.0 L632.4,264.4 L635.4,251.0 L638.4,247.6 L641.6,256.0 L645.0,272.0 L650.0,272.4 L653.6,283.0 L657.2,295.6 L660.0,288.0 L663.4,279.0 L667.0,273.6 L671.4,274.4 L674.4,268.0 L678.0,259.0 L682.0,245.0 L685.0,241.0 L688.0,241.0 L691.0,247.0 L694.0,253.0 L697.0,256.0 L700.0,266.6 L703.0,269.0 L706.0,268.6 L709.0,263.0 L712.4,248.0 L715.6,236.0 L718.6,232.6 L721.6,230.0 L724.4,234.0 L727.6,248.0 L730.6,257.0 L734.0,269.6 L737.0,259.0 L740.0,250.0 L743.0,243.0 L746.0,241.4 L749.0,240.4 L752.0,241.0 L755.0,235.6 L758.0,240.0 L761.4,237.4 L764.4,237.0 L767.6,237.6 L770.6,235.6 L774.0,234.0 L777.0,244.0 L780.0,254.4 L783.0,257.0 L786.0,242.0 L789.0,239.0 L792.0,225.0 L795.0,218.0 L798.0,217.4 L801.0,212.6 L804.0,214.0 L807.4,215.0 L810.4,215.0 L813.6,202.4 L816.6,212.0 L819.6,228.0 L822.6,230.0 L825.6,231.0 L829.0,224.6 L832.0,226.6 L835.0,227.0 L838.0,248.0 L841.0,246.6 L844.0,248.4 L847.6,244.0 L850.6,243.0 L853.6,240.0 L857.0,235.0 L860.0,230.0 L863.0,225.0 L865.6,217.0 L869.0,232.0 L872.0,256.5 L875.0,253.0" fill="none" stroke="#1bb47c" stroke-width="1.9" stroke-linejoin="round" stroke-linecap="round"/></g>
<g clip-path="url(#dn)"><path d="M-3.0,114.6 L0.0,114.4 L3.1,117.2 L5.0,113.1 L6.9,103.8 L10.0,96.9 L12.5,90.6 L15.6,89.4 L18.8,93.8 L21.9,111.2 L24.8,119.4 L26.9,113.1 L30.0,93.1 L33.1,87.5 L36.9,86.9 L40.0,95.0 L43.1,103.1 L45.6,81.2 L46.9,70.0 L49.8,63.1 L52.5,68.1 L55.0,64.4 L58.1,61.2 L60.0,56.9 L64.6,41.9 L67.9,45.6 L70.6,55.0 L74.4,73.1 L77.5,65.6 L80.0,66.2 L83.1,56.2 L86.2,47.5 L89.4,41.9 L92.8,40.0 L95.6,61.9 L98.8,64.4 L101.9,70.6 L104.4,89.0 L107.8,116.0 L110.6,103.4 L113.8,100.0 L116.9,104.4 L120.0,123.8 L123.1,101.9 L126.2,96.2 L129.4,85.0 L131.3,114.4 L133.0,130.0 L136.0,141.6 L139.0,140.4 L142.0,155.0 L145.0,171.0 L148.0,199.0 L151.0,209.0 L154.0,222.0 L157.0,229.0 L160.0,201.0 L163.0,193.0 L166.4,179.0 L170.0,158.0 L172.4,145.0 L175.6,138.0 L178.6,135.0 L181.6,136.0 L184.6,139.0 L187.6,123.0 L190.6,122.4 L193.6,125.0 L197.0,135.0 L200.0,135.0 L203.0,132.0 L206.0,133.0 L209.0,131.0 L212.0,123.6 L215.0,135.6 L218.0,140.0 L221.0,146.0 L224.0,150.0 L227.6,155.0 L230.6,166.6 L233.6,163.6 L236.6,171.0 L239.6,176.0 L242.8,190.5 L246.0,171.0 L249.0,151.0 L252.0,140.0 L255.0,129.0 L258.0,121.0 L261.0,122.0 L264.0,127.0 L267.4,148.0 L270.4,139.0 L273.4,142.0 L276.4,155.0 L279.4,161.6 L282.4,162.0 L285.4,169.0 L288.6,179.0 L291.6,183.5 L294.8,192.5 L298.0,180.5 L301.0,174.5 L304.2,169.0 L307.4,174.0 L310.4,170.6 L313.6,174.0 L316.6,158.0 L319.6,171.0 L322.6,170.6 L325.6,177.6 L329.0,177.0 L332.0,175.0 L335.0,171.6 L338.0,167.4 L341.0,175.6 L344.0,178.0 L347.0,167.0 L350.0,161.0 L353.0,160.0 L356.4,157.6 L359.4,157.4 L362.4,159.6 L365.4,160.0 L368.4,165.6 L371.4,166.6 L374.4,162.4 L377.4,147.4 L380.4,148.0 L383.6,147.0 L386.6,144.0 L390.0,138.6 L393.4,147.4 L396.4,146.6 L399.0,144.0 L402.0,155.0 L405.4,169.6 L408.4,157.0 L411.4,150.0 L414.4,143.0 L417.4,138.0 L421.0,136.4 L424.0,149.6 L427.0,151.0 L430.0,154.0 L433.0,143.0 L436.0,137.0 L439.0,142.0 L442.4,156.6 L445.4,144.0 L448.4,131.0 L451.6,121.6 L454.4,120.0 L457.4,110.6 L460.0,110.6 L463.6,105.0 L466.6,93.0 L469.6,82.4 L472.6,81.6 L476.0,66.6 L479.0,65.6 L482.4,64.4 L485.4,77.6 L488.4,82.0 L491.4,77.6 L494.4,77.0 L497.6,83.0 L500.6,98.0 L503.6,98.0 L507.0,80.6 L510.0,79.6 L513.0,97.0 L516.0,102.6 L519.0,97.4 L522.0,101.6 L525.0,92.0 L528.4,81.6 L531.4,100.0 L534.4,109.0 L537.5,125.0 L540.5,148.0 L543.6,184.0 L547.0,226.0 L549.6,221.6 L553.0,225.4 L556.0,221.0 L559.0,234.0 L562.0,240.0 L565.0,258.6 L568.0,248.6 L571.0,247.0 L574.0,236.0 L577.0,237.6 L580.4,252.6 L583.6,253.6 L586.6,248.0 L589.6,235.6 L592.6,245.0 L596.0,252.0 L599.0,243.0 L602.0,236.6 L605.0,232.6 L608.0,236.0 L611.0,240.6 L614.0,245.6 L616.6,246.0 L620.0,268.0 L623.0,267.6 L626.4,268.4 L629.4,262.0 L632.4,264.4 L635.4,251.0 L638.4,247.6 L641.6,256.0 L645.0,272.0 L650.0,272.4 L653.6,283.0 L657.2,295.6 L660.0,288.0 L663.4,279.0 L667.0,273.6 L671.4,274.4 L674.4,268.0 L678.0,259.0 L682.0,245.0 L685.0,241.0 L688.0,241.0 L691.0,247.0 L694.0,253.0 L697.0,256.0 L700.0,266.6 L703.0,269.0 L706.0,268.6 L709.0,263.0 L712.4,248.0 L715.6,236.0 L718.6,232.6 L721.6,230.0 L724.4,234.0 L727.6,248.0 L730.6,257.0 L734.0,269.6 L737.0,259.0 L740.0,250.0 L743.0,243.0 L746.0,241.4 L749.0,240.4 L752.0,241.0 L755.0,235.6 L758.0,240.0 L761.4,237.4 L764.4,237.0 L767.6,237.6 L770.6,235.6 L774.0,234.0 L777.0,244.0 L780.0,254.4 L783.0,257.0 L786.0,242.0 L789.0,239.0 L792.0,225.0 L795.0,218.0 L798.0,217.4 L801.0,212.6 L804.0,214.0 L807.4,215.0 L810.4,215.0 L813.6,202.4 L816.6,212.0 L819.6,228.0 L822.6,230.0 L825.6,231.0 L829.0,224.6 L832.0,226.6 L835.0,227.0 L838.0,248.0 L841.0,246.6 L844.0,248.4 L847.6,244.0 L850.6,243.0 L853.6,240.0 L857.0,235.0 L860.0,230.0 L863.0,225.0 L865.6,217.0 L869.0,232.0 L872.0,256.5 L875.0,253.0" fill="none" stroke="#dd3145" stroke-width="1.9" stroke-linejoin="round" stroke-linecap="round"/></g>
<circle cx="875" cy="253" r="3.8" fill="#ea3943"/>
<g fill="none" stroke="#ccd1dd" stroke-width="2" stroke-linecap="round" stroke-linejoin="round">
<path d="M798.3,275.6 A10.7,10.7 0 1 1 801.1,270.8"/>
<path d="M782.8,273.3 L787.6,264.8 Q788.9,262.4 789.7,264.9 L791.2,271 L794.8,265.5 Q796.2,263.4 796.7,265.9 L797.6,270 Q798.4,272.8 801.1,270.8"/>
</g>
<text x="810.5" y="274" style="font:14px 'Liberation Sans',sans-serif;fill:#ccd1dd;stroke:#ccd1dd;stroke-width:0.3px" textLength="108.5" lengthAdjust="spacingAndGlyphs">CoinMarketCap</text>
<text x="901.8" y="36.3" class="yl">169</text><text x="901.8" y="71.8" class="yl">168</text><text x="901.8" y="107.3" class="yl">167</text><text x="901.8" y="142.8" class="yl">166</text><text x="901.8" y="178.3" class="yl">165</text><text x="901.8" y="213.8" class="yl">164</text><text x="901.8" y="249.3" class="yl">163</text><text x="901.8" y="284.8" class="yl">162</text><text x="901.8" y="320.3" class="yl">161</text><text x="901.8" y="355.8" class="yl">160</text>
<text x="430.4" y="392" class="xl" text-anchor="middle">03:00</text><text x="540.7" y="392" class="xl" text-anchor="middle">06:00</text><text x="651.3" y="392" class="xl" text-anchor="middle">09:00</text><text x="761.5" y="392" class="xl" text-anchor="middle">12:00</text><text x="869.2" y="392" class="xl" text-anchor="middle">15:00</text>
<rect x="893" y="244" width="36" height="19" fill="#ea3943"/>
<text x="901.7" y="257.2" style="font:bold 11px 'Liberation Sans',sans-serif;fill:#fff">163</text>
</svg>
<div class="banner"><span>Haberois</span></div>
</body></html>
